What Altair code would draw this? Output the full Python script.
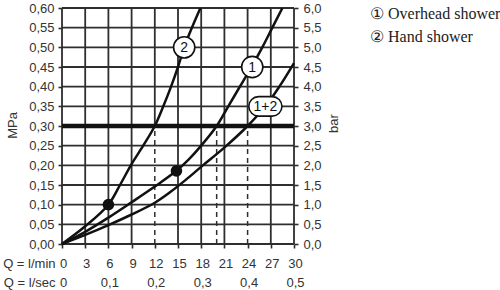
import altair as alt
import pandas as pd

# ---- data ----
q_min_ticks = [0, 3, 6, 9, 12, 15, 18, 21, 24, 27, 30]
q_sec_ticks = [0, 0.1, 0.2, 0.3, 0.4, 0.5]
mpa_ticks = [0.0, 0.05, 0.10, 0.15, 0.20, 0.25, 0.30, 0.35, 0.40, 0.45, 0.50, 0.55, 0.60]
bar_ticks = [0.0, 0.5, 1.0, 1.5, 2.0, 2.5, 3.0, 3.5, 4.0, 4.5, 5.0, 5.5, 6.0]

c2_q = [0, 3, 6, 7.5, 8.9, 10.5, 12, 13.1, 14.1, 15.0, 15.8, 16.8, 17.9]
c2_p = [0, 0.045, 0.10, 0.15, 0.20, 0.25, 0.30, 0.35, 0.40, 0.45, 0.50, 0.55, 0.60]
c1_q = [0, 3, 6, 9, 12, 14.8, 16.4, 18.0, 20.0, 21.5, 23.0, 24.5, 25.9, 27.2, 28.5]
c1_p = [0, 0.031, 0.067, 0.106, 0.146, 0.186, 0.215, 0.250, 0.30, 0.35, 0.40, 0.45, 0.50, 0.55, 0.60]
c12_q = [0, 3, 6, 9, 12, 14, 16, 18.1, 21.1, 24, 26.3, 28.1, 30]
c12_p = [0, 0.023, 0.048, 0.075, 0.105, 0.132, 0.163, 0.198, 0.247, 0.30, 0.35, 0.40, 0.46]

dot_q = [6, 14.8]
dot_p = [0.10, 0.186]

badge_text = ["2", "1", "1+2"]
badge_q = [15.8, 24.6, 26.3]
badge_p = [0.50, 0.45, 0.35]

ref_p = 0.30
drop_q = [12, 20, 24]

legend_lines = ["\u2460 Overhead shower", "\u2461 Hand shower"]

# ---- tables ----
curves = pd.concat([
    pd.DataFrame({"q": c1_q, "p": c1_p, "c": "1"}),
    pd.DataFrame({"q": c2_q, "p": c2_p, "c": "2"}),
    pd.DataFrame({"q": c12_q, "p": c12_p, "c": "1+2"}),
])

vrows = []
for q in q_min_ticks:
    if q in drop_q:
        vrows.append({"q": q, "p": ref_p, "p2": mpa_ticks[-1]})
    else:
        vrows.append({"q": q, "p": 0.0, "p2": mpa_ticks[-1]})
vgrid = pd.DataFrame(vrows)
hgrid = pd.DataFrame({"p": [p for p in mpa_ticks if abs(p - ref_p) > 1e-9],
                      "q": q_min_ticks[0], "q2": q_min_ticks[-1]})
drops = pd.DataFrame({"q": drop_q, "p": 0.0, "p2": ref_p})
refline = pd.DataFrame({"p": [ref_p], "q": [q_min_ticks[0]], "q2": [q_min_ticks[-1]]})
dots = pd.DataFrame({"q": dot_q, "p": dot_p})
badges = pd.DataFrame({"q": badge_q, "p": badge_p, "t": badge_text})

W, H = 232, 236
FONT = "Liberation Sans"
GRID = "#2e2e2e"
TXT = "#333333"

xs = alt.Scale(domain=[0, 30], nice=False)
ys = alt.Scale(domain=[0, 0.6], nice=False)

x_axis = alt.Axis(values=q_min_ticks, orient="bottom", grid=False, domain=False,
                  tickSize=4, tickColor=GRID, tickWidth=1.6,
                  labelPadding=9, labelFont=FONT, labelFontSize=13, labelColor=TXT,
                  labelFlush=False, labelOverlap=False, labelBaseline="top",
                  labelOffset=1,
                  title="Q = l/min", titleX=-7, titleY=13, titleAlign="right",
                  titleBaseline="top", titleAngle=0, titleFont=FONT, titleFontSize=13,
                  titleFontWeight="normal", titleColor=TXT)
y_axis = alt.Axis(values=mpa_ticks, orient="left", grid=False, domain=False,
                  tickSize=4, tickColor=GRID, tickWidth=1.6,
                  labelPadding=4, labelFont=FONT, labelFontSize=13, labelColor=TXT,
                  labelFlush=False, labelOverlap=False,
                  labelExpr="replace(format(datum.value, '.2f'), '.', ',')",
                  title="MPa", titleX=-50, titleY=117, titleAngle=270, titleAlign="center",
                  titleBaseline="middle", titleFont=FONT, titleFontSize=13,
                  titleFontWeight="normal", titleColor=TXT)


def X(field="q"):
    return alt.X(f"{field}:Q", scale=xs, axis=x_axis)


def Y(field="p"):
    return alt.Y(f"{field}:Q", scale=ys, axis=y_axis)


vg = alt.Chart(vgrid).mark_rule(color=GRID, strokeWidth=1.8).encode(
    x=X(), y=Y(), y2="p2:Q")
hg = alt.Chart(hgrid).mark_rule(color=GRID, strokeWidth=1.8).encode(
    x=X(), x2="q2:Q", y=Y())
dr = alt.Chart(drops).mark_rule(color=GRID, strokeWidth=1.5, strokeDash=[5, 4]).encode(
    x=X(), y=Y(), y2="p2:Q")
rl = alt.Chart(refline).mark_rule(color="#111111", strokeWidth=4.5).encode(
    x=X(), x2="q2:Q", y=Y())
cl = alt.Chart(curves).mark_line(color="#111111", strokeWidth=2.5,
                                 interpolate="catmull-rom").encode(
    x=X(), y=Y(), detail="c:N")
dt = alt.Chart(dots).mark_point(filled=True, color="#111111", size=135, opacity=1).encode(
    x=X(), y=Y())

circle_b = alt.Chart(badges[badges["t"] != "1+2"]).mark_point(
    shape="circle", size=450, filled=True, fill="white", stroke="#111111",
    strokeWidth=1.6, opacity=1).encode(x=X(), y=Y())
pill_b = alt.Chart(badges[badges["t"] == "1+2"]).mark_point(
    shape="M-0.7,-1L0.7,-1A1,1,0,0,1,0.7,1L-0.7,1A1,1,0,0,1,-0.7,-1Z",
    size=380, filled=True, fill="white", stroke="#111111",
    strokeWidth=1.6, opacity=1).encode(x=X(), y=Y())
bt = alt.Chart(badges).mark_text(font=FONT, fontSize=14, color="#111111",
                                 align="center", baseline="middle", dy=0.5).encode(
    x=X(), y=Y(), text="t:N")

leg1 = alt.Chart(pd.DataFrame({"t": [legend_lines[0]]})).mark_text(
    font="Liberation Serif", fontSize=16, color="#222222", align="left",
    baseline="alphabetic").encode(x=alt.value(308), y=alt.value(11), text="t:N")
leg2 = alt.Chart(pd.DataFrame({"t": [legend_lines[1]]})).mark_text(
    font="Liberation Serif", fontSize=16, color="#222222", align="left",
    baseline="alphabetic").encode(x=alt.value(308), y=alt.value(34), text="t:N")

main = alt.layer(vg, hg, dr, rl, cl, dt, circle_b, pill_b, bt, leg1, leg2)

right = alt.Chart(pd.DataFrame({"b": bar_ticks})).mark_point(opacity=0).encode(
    x=alt.X("b:Q", scale=alt.Scale(domain=[0, 30], nice=False), axis=None),
    y=alt.Y("b:Q", scale=alt.Scale(domain=[0, 6], nice=False),
            axis=alt.Axis(values=bar_ticks, orient="right", grid=False, domain=False,
                          tickSize=4, tickColor=GRID, tickWidth=1.6,
                          labelPadding=5, labelFont=FONT, labelFontSize=13, labelColor=TXT,
                          labelFlush=False, labelOverlap=False,
                          labelExpr="replace(format(datum.value, '.1f'), '.', ',')",
                          title="bar", titleX=39, titleY=115, titleAngle=270,
                          titleAlign="center", titleBaseline="middle", titleFont=FONT,
                          titleFontSize=13, titleFontWeight="normal", titleColor=TXT)))

sec = alt.Chart(pd.DataFrame({"s": q_sec_ticks})).mark_point(opacity=0).encode(
    x=alt.X("s:Q", scale=alt.Scale(domain=[0, 0.5], nice=False),
            axis=alt.Axis(values=q_sec_ticks, orient="bottom", grid=False, domain=False,
                          ticks=False, tickSize=0, labelPadding=32, labelFont=FONT,
                          labelFontSize=13, labelColor=TXT, labelFlush=False,
                          labelOverlap=False, labelBaseline="top", labelOffset=1,
                          labelExpr="datum.value == 0 ? '0' : replace(format(datum.value, '.1f'), '.', ',')",
                          title="Q = l/sec", titleX=-7, titleY=32, titleAlign="right",
                          titleBaseline="top", titleAngle=0, titleFont=FONT,
                          titleFontSize=13, titleFontWeight="normal", titleColor=TXT)),
    y=alt.Y("s:Q", scale=alt.Scale(domain=[0, 0.5], nice=False), axis=None))

chart = alt.layer(main, right, sec).resolve_scale(
    x="independent", y="independent"
).properties(
    width=W, height=H,
    autosize=alt.AutoSizeParams(type="none"),
    padding={"left": 62, "top": 8, "right": 500 - 62 - W, "bottom": 290 - 8 - H},
).configure_view(stroke=None).configure(background="white")

chart.save("out.html", embed_options={"renderer": "svg", "actions": False})
